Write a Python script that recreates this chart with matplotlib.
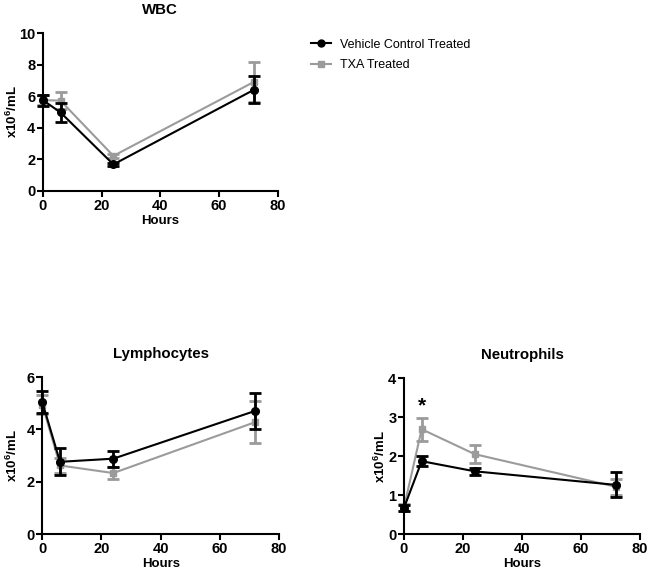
import numpy as np
import matplotlib
matplotlib.use('Agg')
import matplotlib.pyplot as plt
from matplotlib.lines import Line2D

plt.rcParams['font.family'] = ['Liberation Sans', 'DejaVu Sans']
plt.rcParams['mathtext.fontset'] = 'custom'
plt.rcParams['mathtext.bf'] = 'Liberation Sans:bold'
plt.rcParams['mathtext.rm'] = 'Liberation Sans:bold'
plt.rcParams['mathtext.default'] = 'bf'

hours = [0, 6, 24, 72]

wbc_veh = [5.75, 4.97, 1.68, 6.42]
wbc_veh_err = [0.35, 0.62, 0.10, 0.88]
wbc_txa = [5.75, 5.72, 2.22, 6.92]
wbc_txa_err = [0.30, 0.55, 0.14, 1.27]

lym_veh = [5.05, 2.76, 2.88, 4.71]
lym_veh_err = [0.43, 0.52, 0.30, 0.68]
lym_txa = [4.95, 2.62, 2.33, 4.28]
lym_txa_err = [0.35, 0.30, 0.22, 0.82]

neu_veh = [0.67, 1.87, 1.61, 1.26]
neu_veh_err = [0.08, 0.13, 0.09, 0.32]
neu_txa = [0.68, 2.69, 2.05, 1.21]
neu_txa_err = [0.08, 0.30, 0.23, 0.21]

GRAY = '#9b9b9b'

fig = plt.figure(figsize=(6.5, 5.73), dpi=100)
ax_wbc = fig.add_axes([0.066, 0.6667, 0.3615, 0.2757])
ax_lym = fig.add_axes([0.065, 0.068, 0.3645, 0.274])
ax_neu = fig.add_axes([0.6215, 0.068, 0.363, 0.272])


def draw(ax, veh, veh_err, txa, txa_err, title, ymax, ystep, ylab_x):
    ax.errorbar(hours, txa, yerr=txa_err, color=GRAY, marker='s', markersize=5,
                lw=1.5, elinewidth=2, capsize=4, capthick=2, zorder=2)
    ax.errorbar(hours, veh, yerr=veh_err, color='black', marker='o', markersize=5.5,
                lw=1.5, elinewidth=2, capsize=4, capthick=2, zorder=3)
    ax.set_xlim(0, 80)
    ax.set_ylim(0, ymax)
    ax.set_xticks([0, 20, 40, 60, 80])
    ax.set_yticks(np.arange(0, ymax + 0.01, ystep))
    for s in ['top', 'right']:
        ax.spines[s].set_visible(False)
    for s in ['left', 'bottom']:
        ax.spines[s].set_linewidth(1.5)
    ax.tick_params(width=1.5, length=4.5, labelsize=10.5, pad=1)
    for lab in ax.get_xticklabels() + ax.get_yticklabels():
        lab.set_fontweight('bold')
    ax.set_xlabel('Hours', fontsize=9.5, fontweight='bold', labelpad=2)
    ax.set_ylabel(r'x10$^{6}$/mL', fontsize=9.5, fontweight='bold')
    ax.yaxis.set_label_coords(ylab_x, 0.5)
    ax.set_title(title, fontsize=10.8, fontweight='bold', pad=14)
    for ln in ax.lines:
        ln.set_clip_on(False)
    for c in ax.collections:
        c.set_clip_on(False)


draw(ax_wbc, wbc_veh, wbc_veh_err, wbc_txa, wbc_txa_err, 'WBC', 10, 2, -0.098)
draw(ax_lym, lym_veh, lym_veh_err, lym_txa, lym_txa_err, 'Lymphocytes', 6, 2, -0.093)
draw(ax_neu, neu_veh, neu_veh_err, neu_txa, neu_txa_err, 'Neutrophils', 4, 1, -0.068)

ax_neu.text(6, 3.3, '*', ha='center', va='center', fontsize=15, fontweight='bold')

handles = [Line2D([], [], color='black', marker='o', markersize=5, lw=1.5),
           Line2D([], [], color=GRAY, marker='s', markersize=4.5, lw=1.5)]
labels = ['Vehicle Control Treated', 'TXA Treated']
fig.legend(handles, labels, loc='upper left', bbox_to_anchor=(0.461, 0.952),
           frameon=False, fontsize=9, handlelength=1.6, handletextpad=0.7,
           labelspacing=0.65)

fig.savefig('out.png', dpi=100)
